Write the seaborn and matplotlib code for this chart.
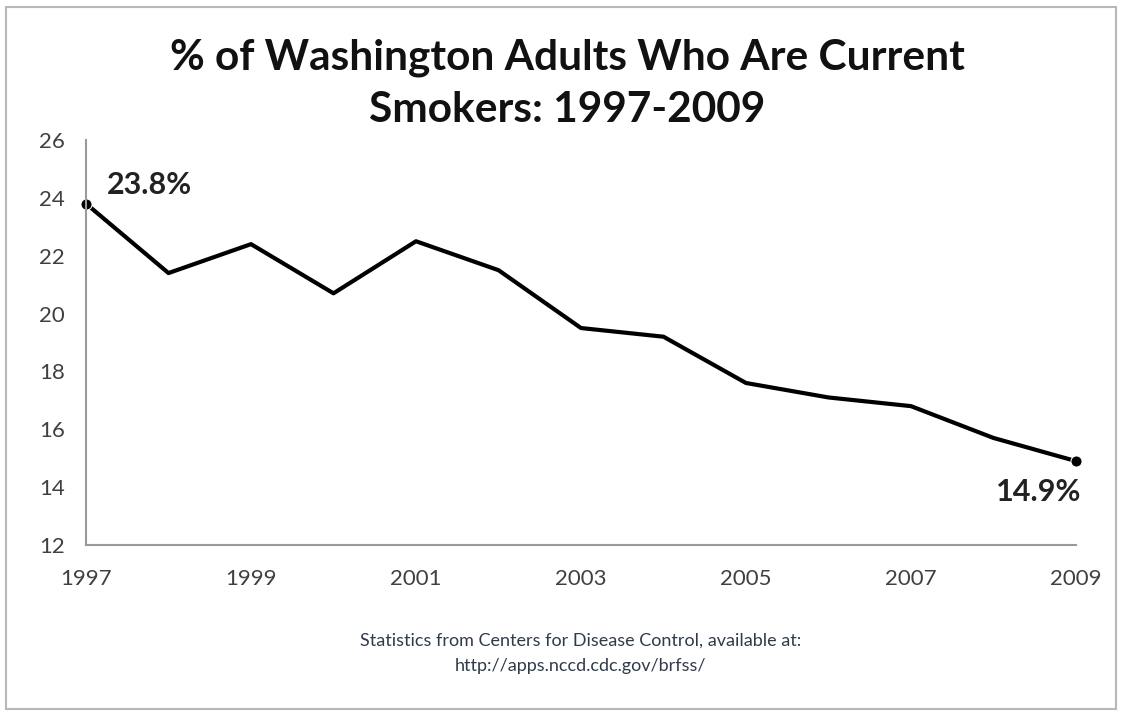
import matplotlib
matplotlib.use("Agg")
import matplotlib.pyplot as plt
import seaborn as sns
import pandas as pd
from matplotlib.patches import Rectangle

years = [1997, 1998, 1999, 2000, 2001, 2002, 2003, 2004, 2005, 2006, 2007, 2008, 2009]
smokers = [23.8, 21.4, 22.4, 20.7, 22.5, 21.5, 19.5, 19.2, 17.6, 17.1, 16.8, 15.7, 14.9]
x_ticks = [1997, 1999, 2001, 2003, 2005, 2007, 2009]
y_ticks = [12, 14, 16, 18, 20, 22, 24, 26]
title = "% of Washington Adults Who Are Current\nSmokers: 1997-2009"
footnote = "Statistics from Centers for Disease Control, available at:\nhttp://apps.nccd.cdc.gov/brfss/"
labels = ["23.8%", "14.9%"]

sns.set_style("white")
plt.rcParams['font.family'] = ['Lato', 'DejaVu Sans']

df = pd.DataFrame({"year": years, "pct": smokers})

fig = plt.figure(figsize=(11.22, 7.13), dpi=100)
ax = fig.add_axes([86/1122, 1-545/713, (1076-86)/1122, (545-140)/713])

sns.lineplot(data=df, x="year", y="pct", ax=ax, color="black", linewidth=3,
             marker="o", markersize=8, markevery=[0, len(years)-1], clip_on=False)

ax.set_xlim(years[0], years[-1])
ax.set_ylim(12, 26)
ax.set_xticks(x_ticks)
ax.set_yticks(y_ticks)
ax.set_xlabel("")
ax.set_ylabel("")
for s in ["top", "right"]:
    ax.spines[s].set_visible(False)
for s in ["left", "bottom"]:
    ax.spines[s].set_color("#9a9a9a")
    ax.spines[s].set_linewidth(1.5)
ax.tick_params(axis="both", which="both", direction="out", length=7, width=1.5,
               color="#9a9a9a", labelsize=16, labelcolor="#404040")
ax.tick_params(axis="y", pad=8)
ax.tick_params(axis="x", pad=10)

ax.annotate(labels[0], xy=(years[0], smokers[0]), xytext=(15, 3), textcoords="offset points",
            fontsize=22, fontweight="bold", color="#222222", va="bottom", ha="left")
ax.annotate(labels[-1], xy=(years[-1], smokers[-1]), xytext=(4, -12), textcoords="offset points",
            fontsize=22, fontweight="bold", color="#222222", va="top", ha="right")

fig.text(567/1122, 1-84/713, title, ha="center", va="center", fontsize=30.5,
         fontweight="bold", color="#111111", linespacing=1.45)
fig.text(581/1122, 1-653/713, footnote, ha="center", va="center", fontsize=13,
         color="#2f3a4a", linespacing=1.75)

fig.patches.append(Rectangle((6/1122, 4/713), 1110/1122, 702/713, transform=fig.transFigure,
                             fill=False, edgecolor="#b8b8b8", linewidth=1.5))

fig.savefig("out.png", dpi=100)
